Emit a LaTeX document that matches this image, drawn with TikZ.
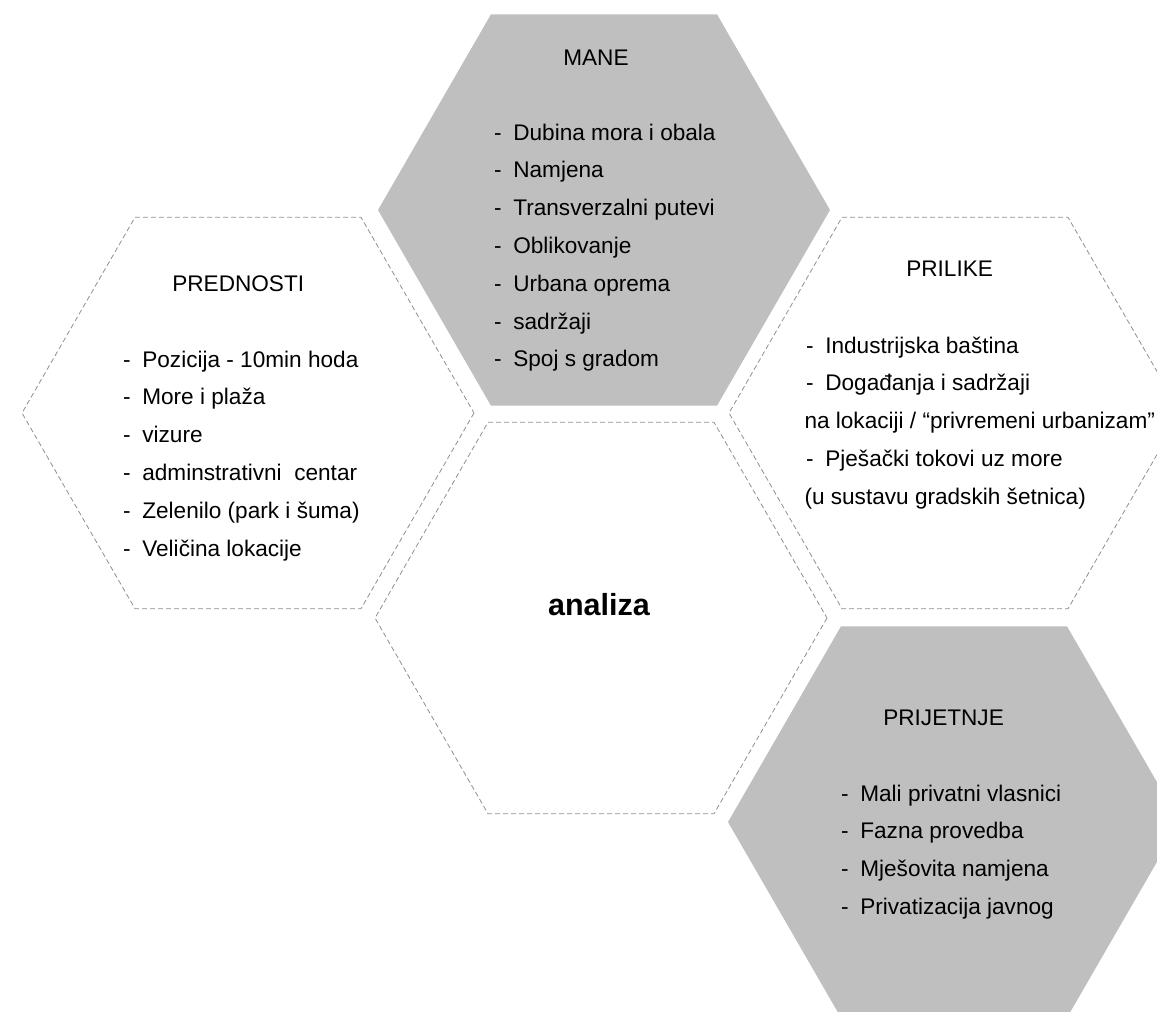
\documentclass[tikz,border=0pt]{standalone}
\usepackage{fontspec}
\setmainfont{Liberation Sans}
\definecolor{hexgray}{HTML}{BFBFBF}
\definecolor{dashgray}{HTML}{8F8F8F}
\newcommand\itemfont{\fontsize{22.6}{27}\selectfont}
\tikzset{
  hexfill/.style={fill=hexgray, draw=none},
  hexdash/.style={draw=dashgray, line width=0.8pt, dash pattern=on 5pt off 3pt},
  item/.style={anchor=base west, inner sep=0pt, outer sep=0pt, font=\itemfont, text=black},
  titletext/.style={item},
  centertext/.style={anchor=base, inner sep=0pt, font=\fontsize{30.5}{34}\selectfont\bfseries}
}
\begin{document}
\begin{tikzpicture}[x=1pt,y=-1pt]
\useasboundingbox (0,0) rectangle (1157,1012);
\clip (0,0) rectangle (1157,1012);
% hexagon centres
\coordinate (cM) at (604,210);
\coordinate (cP) at (248,413);
\coordinate (cA) at (601,618);
\coordinate (cO) at (955,413);
\coordinate (cT) at (954,822);
% hexagons
\path[hexfill, shift={(cM)}] (0:226) -- (60:226) -- (120:226) -- (180:226) -- (240:226) -- (300:226) -- cycle;
\path[hexfill, shift={(cT)}] (0:226) -- (60:226) -- (120:226) -- (180:226) -- (240:226) -- (300:226) -- cycle;
\draw[hexdash, shift={(cP)}] (0:226) -- (60:226) -- (120:226) -- (180:226) -- (240:226) -- (300:226) -- cycle;
\draw[hexdash, shift={(cA)}] (0:226) -- (60:226) -- (120:226) -- (180:226) -- (240:226) -- (300:226) -- cycle;
\draw[hexdash, shift={(cO)}] (0:226) -- (60:226) -- (120:226) -- (180:226) -- (240:226) -- (300:226) -- cycle;
% MANE
\node[titletext] (mt) at (563.3,65) {MANE};
\node[item] (m1) at (494,140) {-\hspace{11.8pt}Dubina mora i obala};
\node[item] (m2) at (494,177.8) {-\hspace{11.8pt}Namjena};
\node[item] (m3) at (494,215.6) {-\hspace{11.8pt}Transverzalni putevi};
\node[item] (m4) at (494,253.4) {-\hspace{11.8pt}Oblikovanje};
\node[item] (m5) at (494,291.2) {-\hspace{11.8pt}Urbana oprema};
\node[item] (m6) at (494,329) {-\hspace{11.8pt}sadržaji};
\node[item] (m7) at (494,366.8) {-\hspace{11.8pt}Spoj s gradom};
% PREDNOSTI
\node[titletext] (pt) at (172.3,291) {PREDNOSTI};
\node[item] (p1) at (123,367) {-\hspace{11.8pt}Pozicija - 10min hoda};
\node[item] (p2) at (123,404.8) {-\hspace{11.8pt}More i plaža};
\node[item] (p3) at (123,442.6) {-\hspace{11.8pt}vizure};
\node[item] (p4) at (123,480.4) {-\hspace{11.8pt}adminstrativni\hspace{6.3pt} centar};
\node[item] (p5) at (123,518.2) {-\hspace{11.8pt}Zelenilo (park i šuma)};
\node[item] (p6) at (123,556) {-\hspace{11.8pt}Veličina lokacije};
% PRILIKE
\node[titletext] (ot) at (906.3,276) {PRILIKE};
\node[item] (o1) at (806,353) {-\hspace{11.8pt}Industrijska baština};
\node[item] (o2) at (806,390.8) {-\hspace{11.8pt}Događanja i sadržaji};
\node[item] (o3) at (804.5,428.6) {na lokaciji / “privremeni urbanizam”};
\node[item] (o4) at (806,466.4) {-\hspace{11.8pt}Pješački tokovi uz more};
\node[item] (o5) at (804.5,504.2) {(u sustavu gradskih šetnica)};
% PRIJETNJE
\node[titletext] (tt) at (883.3,725) {PRIJETNJE};
\node[item] (t1) at (841,801) {-\hspace{11.8pt}Mali privatni vlasnici};
\node[item] (t2) at (841,838.8) {-\hspace{11.8pt}Fazna provedba};
\node[item] (t3) at (841,876.6) {-\hspace{11.8pt}Mješovita namjena};
\node[item] (t4) at (841,914.4) {-\hspace{11.8pt}Privatizacija javnog};
% centre
\node[centertext] (an) at (599,615) {analiza};
\end{tikzpicture}
\end{document}
